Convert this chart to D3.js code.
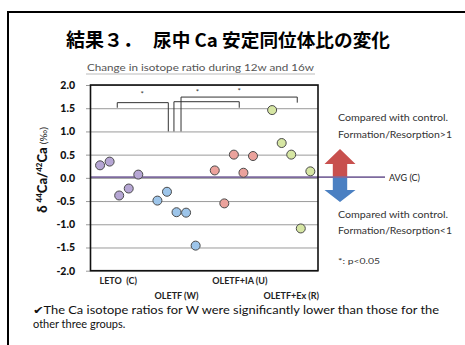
<!DOCTYPE html>
<html>
<head>
<meta charset="utf-8">
<script src="https://cdn.jsdelivr.net/npm/d3@7"></script>
<style>
  html, body { margin: 0; padding: 0; background: #fff; }
  svg { display: block; }
</style>
</head>
<body>
<svg id="chart" width="465" height="345"></svg>
<script>
// Urinary Ca isotope ratio change (δ44Ca/42Ca, ‰) between 12w and 16w, four groups
const groups = ["LETO  (C)", "OLETF (W)", "OLETF+IA (U)", "OLETF+Ex (R)"];
const letoC   = [0.27, 0.35, -0.38, -0.23, 0.07];
const oletfW  = [-0.49, -0.30, -0.74, -0.75, -1.46];
const oletfU  = [0.16, -0.55, 0.50, 0.11, 0.47];
const oletfR  = [1.46, 0.75, 0.50, -1.09, 0.14];
const groupValues = [letoC, oletfW, oletfU, oletfR];
const groupColors = ["#b6a6d4", "#9dc5ea", "#eba29c", "#d6e6a3"];
const yTicks = [2.0, 1.5, 1.0, 0.5, 0.0, -0.5, -1.0, -1.5, -2.0];

// significance brackets: slot positions along x, values along y
const brackets = [
  { x0: 1.8,  x1: 7.14,  top: 1.62, left: 1.51, right: 1.00, starX: 4.42,  starY: 1.82 },
  { x0: 7.73, x1: 14.56, top: 1.64, left: 1.00, right: 1.51, starX: 10.2,  starY: 1.85 },
  { x0: 8.47, x1: 20.63, top: 1.74, left: 1.00, right: 1.62, starX: 14.56, starY: 1.89 }
];

const svg = d3.select("#chart");
const sans = "Lato, 'Open Sans', sans-serif";

// outer slide frame
svg.append("path")
  .attr("d", "M8,345 V12 H465")
  .attr("fill", "none").attr("stroke", "#000").attr("stroke-width", 2);

// title
svg.append("text").attr("x", 66).attr("y", 47)
  .attr("font-family", "'Noto Sans CJK JP'").attr("font-weight", 700)
  .attr("font-size", 19).attr("fill", "#000").text("結果３．");
svg.append("text").attr("x", 153).attr("y", 47)
  .attr("font-family", "'Noto Sans CJK JP'").attr("font-weight", 700)
  .attr("font-size", 18).attr("fill", "#000")
  .attr("textLength", 237).attr("lengthAdjust", "spacingAndGlyphs")
  .text("尿中 Ca 安定同位体比の変化");

// subtitle
svg.append("text").attr("x", 87).attr("y", 71)
  .attr("font-family", sans).attr("font-size", 9.5).attr("fill", "#555")
  .attr("textLength", 227).attr("lengthAdjust", "spacingAndGlyphs")
  .text("Change in isotope ratio during 12w and 16w");
svg.append("line").attr("x1", 86).attr("x2", 315).attr("y1", 74).attr("y2", 74)
  .attr("stroke", "#bbb").attr("stroke-width", 1);

// scales
const plotLeft = 90.5, plotRight = 318, plotTop = 85, plotBottom = 270.7;
const x = d3.scaleLinear().domain([-1, 22.8]).range([plotLeft, plotRight]);
const y = d3.scaleLinear().domain([-2, 2]).range([plotBottom, plotTop]);
const slot = (g, i) => g * 6 + i;

// y axis with full-width gridlines
const axisX = 86;
const yAxis = svg.append("g").attr("transform", `translate(${axisX},0)`)
  .call(d3.axisLeft(y).tickValues(yTicks)
    .tickSize(-(plotRight - axisX)).tickPadding(11)
    .tickFormat(d3.format(".1f")));
yAxis.select(".domain").remove();
yAxis.selectAll(".tick line").attr("stroke", "#9a9a9a").attr("stroke-width", 1);
yAxis.selectAll(".tick text")
  .attr("font-family", sans).attr("font-weight", 900).attr("font-size", 10.5)
  .attr("fill", "#111")
  .text(d => d3.format(".1f")(d).replace("−", "-"));

// y axis title
const yTitle = svg.append("text")
  .attr("transform", "translate(47,170) rotate(-90)")
  .attr("text-anchor", "middle")
  .attr("font-family", sans).attr("font-weight", 900).attr("font-size", 13).attr("fill", "#111");
yTitle.append("tspan").text("δ ");
yTitle.append("tspan").attr("font-size", 8).attr("dy", -5).text("44");
yTitle.append("tspan").attr("dy", 5).text("Ca/");
yTitle.append("tspan").attr("font-size", 8).attr("dy", -5).text("42");
yTitle.append("tspan").attr("dy", 5).text("Ca ");
yTitle.append("tspan").attr("font-size", 10).attr("font-weight", 400).text("(‰)");

// average of the control group, with the direction arrows
const avg = d3.mean(letoC);
const ya = y(avg);
const ax = 340, headW = 15.5, shaftW = 7.2;
svg.append("path")
  .attr("d", `M${ax},${ya - 28} L${ax + headW},${ya - 13} L${ax + shaftW},${ya - 13} L${ax + shaftW},${ya} L${ax - shaftW},${ya} L${ax - shaftW},${ya - 13} L${ax - headW},${ya - 13} Z`)
  .attr("fill", "#c8504e");
svg.append("path")
  .attr("d", `M${ax},${ya + 25} L${ax + headW},${ya + 13} L${ax + shaftW},${ya + 13} L${ax + shaftW},${ya} L${ax - shaftW},${ya} L${ax - shaftW},${ya + 13} L${ax - headW},${ya + 13} Z`)
  .attr("fill", "#4b80c2");
svg.append("line")
  .attr("x1", plotLeft).attr("x2", 385).attr("y1", ya).attr("y2", ya)
  .attr("stroke", "#7d6a9e").attr("stroke-width", 1.6);
svg.append("text").attr("x", 389).attr("y", ya + 3.5)
  .attr("font-family", sans).attr("font-size", 9).attr("fill", "#222").text("AVG (C)");

// plot border
svg.append("rect")
  .attr("x", plotLeft).attr("y", plotTop)
  .attr("width", plotRight - plotLeft).attr("height", plotBottom - plotTop)
  .attr("fill", "none").attr("stroke", "#111").attr("stroke-width", 1.6);

// significance brackets
const bg = svg.append("g").attr("fill", "none").attr("stroke", "#333").attr("stroke-width", 1);
brackets.forEach(b => {
  bg.append("path").attr("d",
    `M${x(b.x0)},${y(b.left)} V${y(b.top)} H${x(b.x1)} V${y(b.right)}`);
});
svg.selectAll("text.star").data(brackets).join("text")
  .attr("class", "star")
  .attr("x", d => x(d.starX)).attr("y", d => y(d.starY) + 3.5)
  .attr("text-anchor", "middle")
  .attr("font-family", sans).attr("font-size", 8).attr("fill", "#333").text("*");

// data points
const points = [];
groupValues.forEach((vals, g) => vals.forEach((v, i) => points.push({ g, i, v })));
svg.append("g").selectAll("circle").data(points).join("circle")
  .attr("cx", d => x(slot(d.g, d.i)))
  .attr("cy", d => y(d.v))
  .attr("r", 4.5)
  .attr("fill", d => groupColors[d.g])
  .attr("stroke", "#4a4a4a").attr("stroke-width", 1);

// group labels, staggered
svg.selectAll("text.grp").data(groups).join("text")
  .attr("class", "grp")
  .attr("x", (d, g) => x(slot(g, 2)) + (g === 2 ? 6 : 0) - (g === 0 ? 1 : 0))
  .attr("y", (d, g) => g % 2 === 0 ? 284 : 299)
  .attr("text-anchor", "middle")
  .attr("font-family", sans).attr("font-weight", 700).attr("font-size", 9)
  .attr("fill", "#222")
  .style("white-space", "pre")
  .text(d => d);

// right-hand annotations
const note = (txt, yy, len, size) => svg.append("text").attr("x", 338).attr("y", yy)
  .attr("font-family", sans).attr("font-size", size || 9).attr("fill", "#333")
  .attr("textLength", len).attr("lengthAdjust", "spacingAndGlyphs").text(txt);
note("Compared with control.", 121, 110);
note("Formation/Resorption>1", 138, 114);
note("Compared with control.", 218, 110);
note("Formation/Resorption<1", 234, 114);
note("*: p<0.05", 264, 42, 8);

// conclusion
svg.append("text").attr("x", 33).attr("y", 314)
  .attr("font-family", sans).attr("font-size", 11).attr("fill", "#111")
  .attr("textLength", 406).attr("lengthAdjust", "spacingAndGlyphs")
  .text("✔The Ca isotope ratios for W were significantly lower than those for the");
svg.append("text").attr("x", 33).attr("y", 328)
  .attr("font-family", sans).attr("font-size", 11).attr("fill", "#111")
  .text("other three groups.");
</script>
</body>
</html>
